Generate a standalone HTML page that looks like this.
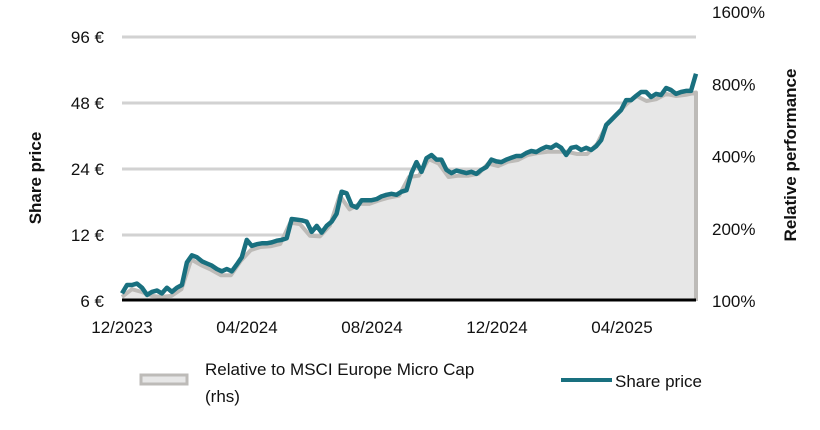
<!DOCTYPE html>
<html><head><meta charset="utf-8"><style>
body{margin:0;background:#fff;font-family:"Liberation Sans",sans-serif}
svg text{font-family:"Liberation Sans",sans-serif;font-size:17px;fill:#111}
</style></head><body>
<svg id="c" width="820" height="425"></svg>
<script>
const price=[6.5,7.1,7.1,7.2,6.9,6.4,6.6,6.7,6.5,6.9,6.6,6.9,7.1,9.0,9.7,9.5,9.1,8.9,8.7,8.4,8.2,8.4,8.2,8.8,9.5,11.4,10.7,10.9,11.0,11.0,11.1,11.3,11.4,11.6,14.2,14.1,14.0,13.8,12.4,13.2,12.3,13.2,13.8,15.0,18.9,18.6,16.4,16.0,17.3,17.3,17.3,17.5,18.0,18.3,18.5,18.3,18.9,19.2,23,25.8,23.3,26.9,27.8,26.5,26.5,23.8,23.0,23.6,23.3,23.0,23.3,22.8,23.8,24.5,26.5,26.0,25.8,26.5,27.0,27.5,27.5,28.4,29.0,28.7,29.6,30.3,30.0,31.0,30.0,27.8,30.0,30.3,29.3,30.0,29.3,30.5,32.5,38.1,40.1,42.3,44.6,49.5,49.5,51.7,53.9,53.9,51.1,52.8,52.2,56.2,55.0,52.8,53.9,54.5,54.5,65.2];
const relative=[104,112,109,105,104,105,112,149,141,135,128,128,147,163,168,169,173,212,209,187,186,206,275,241,254,254,263,270,275,329,333,391,374,329,333,333,339,374,365,381,387,406,414,419,419,419,410,410,451,546,602,663,716,682,695,730,716,724,740];
const leftTicks=[6,12,24,48,96];
const leftLabels=["6 €","12 €","24 €","48 €","96 €"];
const rightTicks=[100,200,400,800,1600];
const rightLabels=["100%","200%","400%","800%","1600%"];
const xLabels=["12/2023","04/2024","08/2024","12/2024","04/2025"];
const X0=122,X1=696;
const ns="http://www.w3.org/2000/svg",svg=document.getElementById('c');
function el(t,a,p){const e=document.createElementNS(ns,t);for(const k in a)e.setAttribute(k,a[k]);(p||svg).appendChild(e);return e;}
const yL=v=>301-66*Math.log2(v/6);
const yR=v=>301-72.2*Math.log2(v/100);
const xP=i=>X0+(X1-X0)*i/(price.length-1);
const xR=i=>X0+(X1-X0)*i/(relative.length-1);
leftTicks.forEach((t,i)=>{if(i>0){const g=el('line',{x1:X0,x2:X1,y1:yL(t),y2:yL(t),stroke:'#d2d2d2','stroke-width':3});

}
const tx=el('text',{x:104,y:yL(t)+6,'text-anchor':'end'});tx.textContent=leftLabels[i];

});
rightTicks.forEach((t,i)=>{const tx=el('text',{x:712,y:yR(t)+6});tx.textContent=rightLabels[i];

});
let d='M'+X0+',301 '+relative.map((v,i)=>'L'+xR(i).toFixed(1)+','+yR(v).toFixed(1)).join(' ')+' L'+X1+',301Z';
const area=el('path',{d:d,fill:'#e7e7e7'});


const rl=el('path',{d:relative.map((v,i)=>(i?'L':'M')+xR(i).toFixed(1)+','+(yR(v)).toFixed(1)).join(' ')+' L'+X1+',301',fill:'none',stroke:'#bdbbb8','stroke-width':4,'stroke-linejoin':'round'});


const pl=el('path',{d:price.map((v,i)=>(i?'L':'M')+xP(i).toFixed(1)+','+yL(v).toFixed(1)).join(' '),fill:'none',stroke:'#19707f','stroke-width':4.5,'stroke-linejoin':'round'});


const ax=el('line',{x1:X0,x2:X1,y1:300,y2:300,stroke:'#000','stroke-width':3});


xLabels.forEach((l,i)=>{const tx=el('text',{x:X0+i*125,y:333,'text-anchor':'middle'});tx.textContent=l;

});
</script>
<svg width="820" height="425" style="position:absolute;left:0;top:0">
<text transform="translate(41,178) rotate(-90)" text-anchor="middle" style="font-weight:bold">Share price</text>
<text transform="translate(796,155) rotate(-90)" text-anchor="middle" style="font-weight:bold">Relative performance</text>
<g>
<rect x="141" y="375" width="46" height="9" fill="#e7e7e7" stroke="#bdbbb8" stroke-width="3"/>
<text x="205" y="375">Relative to MSCI Europe Micro Cap</text>
<text x="205" y="402">(rhs)</text></g>
<g>
<line x1="561" x2="612" y1="380" y2="380" stroke="#19707f" stroke-width="4"/>
<text x="615" y="387">Share price</text></g>
</svg>
</body></html>
